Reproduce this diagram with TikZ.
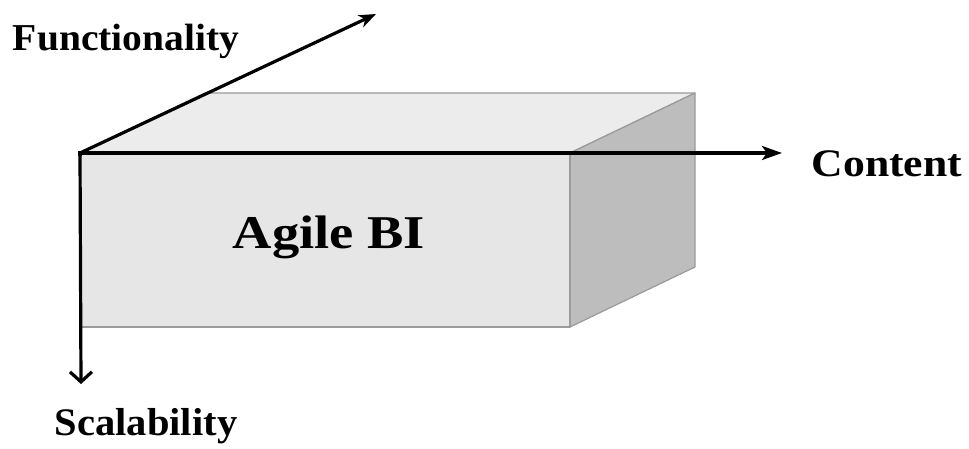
\documentclass[tikz,border=0pt]{standalone}
\usepackage{fontspec}
\setmainfont{Liberation Serif}
\usetikzlibrary{arrows.meta}
\definecolor{frontgray}{HTML}{E6E6E6}
\definecolor{topgray}{HTML}{ECECEC}
\definecolor{sidegray}{HTML}{BDBDBD}
\definecolor{edgegray}{HTML}{9A9A9A}
\tikzset{
  face/.style={draw=edgegray, line width=1.2pt, line join=round},
  axis/.style={draw=black, line width=3.2pt},
  lbl/.style={inner sep=0pt, font=\bfseries}
}
\begin{document}
\begin{tikzpicture}[x=1pt,y=-1pt]
\useasboundingbox (0,0) rectangle (969,448);
% box corners
\coordinate (FTL) at (80,153);
\coordinate (FTR) at (570,153);
\coordinate (FBR) at (570,327);
\coordinate (FBL) at (80,327);
\coordinate (BTL) at (205,93);
\coordinate (BTR) at (695,93);
\coordinate (BBR) at (695,267);
% faces
\path[face, fill=topgray] (FTL) -- (BTL) -- (BTR) -- (FTR) -- cycle;
\path[face, fill=sidegray] (FTR) -- (BTR) -- (BBR) -- (FBR) -- cycle;
\path[face, fill=frontgray] (FTL) -- (FTR) -- (FBR) -- (FBL) -- cycle;
% axes
\coordinate (O) at (80,153);
\coordinate (Xend) at (782,153);
\coordinate (Yend) at (81,384);
\coordinate (Zend) at (376,14);
\draw[axis, -{Stealth[length=20pt,width=14pt,inset=5pt]}] (O) -- (Xend);
\draw[axis, -{Straight Barb[length=10pt,width=22pt]}] (O) -- (Yend);
\draw[axis, -{Stealth[length=17pt,width=13pt,inset=5pt]}] (O) -- (Zend);
\draw[axis, line cap=rect] (O) -- ++(0,1);
% labels
\node[lbl, font=\bfseries\fontsize{38}{44}\selectfont] (func) at (126,41) {\scalebox{1.04}[1]{Functionality}};
\node[lbl, font=\bfseries\fontsize{39}{44}\selectfont] (cont) at (887,164) {\scalebox{1.12}[1]{Content}};
\node[lbl, font=\bfseries\fontsize{39}{44}\selectfont] (scal) at (146,426) {\scalebox{1.04}[1]{Scalability}};
\node[lbl, font=\bfseries\fontsize{47}{52}\selectfont] (agile) at (329,237) {\scalebox{1.16}[1]{Agile BI}};
\end{tikzpicture}
\end{document}
